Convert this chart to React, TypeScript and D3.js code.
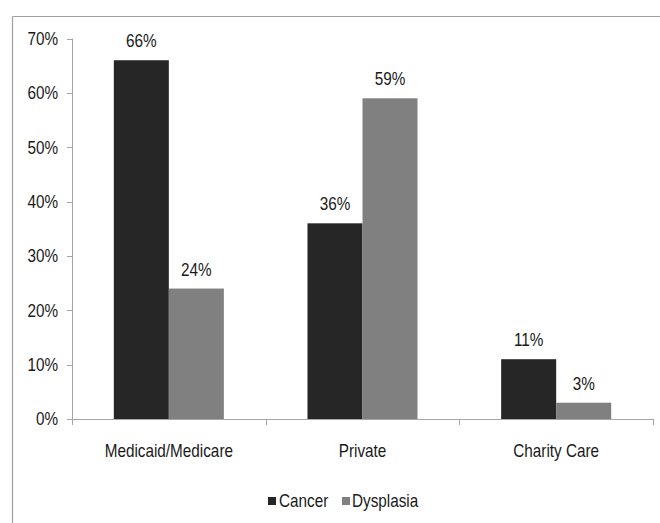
import * as d3 from 'd3';

// payer mix, share of patients per group
const categories = ['Medicaid/Medicare', 'Private', 'Charity Care'];
const seriesNames = ['Cancer', 'Dysplasia'];
const cancerValues = [0.66, 0.36, 0.11];
const dysplasiaValues = [0.24, 0.59, 0.03];
const yTicks = [0, 0.1, 0.2, 0.3, 0.4, 0.5, 0.6, 0.7];

const colors: Record<string, string> = { Cancer: '#262626', Dysplasia: '#808080' };
const font = '"Liberation Sans", Arial, sans-serif';

// the original uses a condensed face; no narrow font here, so squeeze horizontally
function Narrow({ x, y, anchor = 'start', dy, children }: any) {
  return (
    <text
      transform={`translate(${x},${y}) scale(0.85,1)`}
      dy={dy}
      textAnchor={anchor}
      fontSize={18}
      fill="#1a1a1a"
    >
      {children}
    </text>
  );
}

export default function App() {
  const width = 660;
  const height = 523;
  const plot = { left: 72, right: 653, top: 38.5, bottom: 419 };

  const x = d3.scaleBand().domain(categories).range([plot.left, plot.right]).padding(0);
  const xs = d3.scaleBand().domain(seriesNames).range([0, x.bandwidth()]).paddingInner(0).paddingOuter(0.76);
  const y = d3.scaleLinear().domain([0, 0.7]).range([plot.bottom, plot.top]);
  const pct = d3.format('.0%');

  const rows = categories.map((c, i) => ({
    category: c,
    values: [
      { name: 'Cancer', value: cancerValues[i] },
      { name: 'Dysplasia', value: dysplasiaValues[i] },
    ],
  }));

  const xTickPos = [...categories.map((c) => x(c)!), plot.right];
  const axisColor = '#a6a6a6';

  return (
    <div style={{ position: 'absolute', left: 0, top: 0 }}>
      <svg width={width} height={height} style={{ display: 'block', fontFamily: font }}>
        <rect width={width} height={height} fill="#fff" />
        {/* chart frame, only top and left edges are visible */}
        <line x1={12.5} x2={width} y1={16.5} y2={16.5} stroke="#a0a0a0" strokeWidth={1.2} />
        <line x1={12.5} x2={12.5} y1={16.5} y2={height} stroke="#a0a0a0" strokeWidth={1.2} />

        {/* y axis */}
        <line x1={plot.left + 0.5} x2={plot.left + 0.5} y1={y(0.7)} y2={plot.bottom} stroke={axisColor} />
        {yTicks.map((t) => (
          <g key={t}>
            <line x1={plot.left - 5} x2={plot.left} y1={Math.round(y(t)) + 0.5} y2={Math.round(y(t)) + 0.5} stroke={axisColor} />
            <Narrow x={58} y={y(t)} dy="0.35em" anchor="end">
              {pct(t)}
            </Narrow>
          </g>
        ))}

        {/* x axis */}
        <line x1={plot.left} x2={plot.right} y1={plot.bottom + 0.5} y2={plot.bottom + 0.5} stroke={axisColor} />
        {xTickPos.map((p, i) => (
          <line key={i} x1={Math.round(p) + 0.5} x2={Math.round(p) + 0.5} y1={plot.bottom} y2={plot.bottom + 6} stroke={axisColor} />
        ))}
        {categories.map((c) => (
          <Narrow key={c} x={x(c)! + x.bandwidth() / 2} y={457} anchor="middle">
            {c}
          </Narrow>
        ))}

        {/* bars + value labels */}
        {rows.map((r) => (
          <g key={r.category} transform={`translate(${x(r.category)},0)`}>
            {r.values.map((v) => (
              <g key={v.name}>
                <rect
                  x={xs(v.name)}
                  y={y(v.value)}
                  width={xs.bandwidth()}
                  height={y(0) - y(v.value)}
                  fill={colors[v.name]}
                />
                <Narrow x={xs(v.name)! + xs.bandwidth() / 2} y={y(v.value) - 13} anchor="middle">
                  {pct(v.value)}
                </Narrow>
              </g>
            ))}
          </g>
        ))}

        {/* legend */}
        <g>
          <rect x={268} y={497} width={8} height={8} fill={colors.Cancer} />
          <Narrow x={279} y={507}>Cancer</Narrow>
          <rect x={342} y={497} width={8} height={8} fill={colors.Dysplasia} />
          <Narrow x={352} y={507}>Dysplasia</Narrow>
        </g>
      </svg>
    </div>
  );
}
